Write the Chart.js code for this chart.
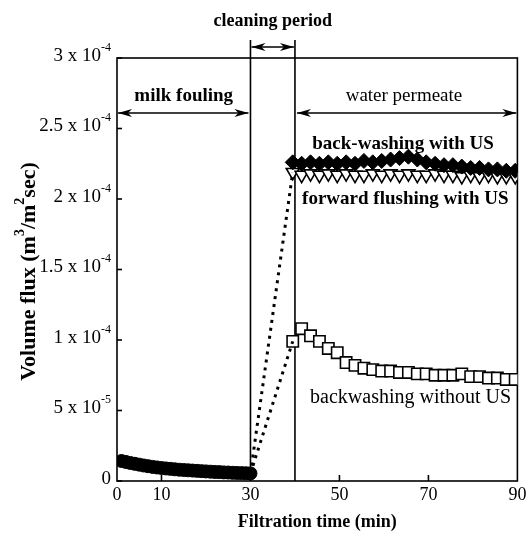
<!DOCTYPE html>
<html>
<head>
<meta charset="utf-8">
<script src="https://cdn.jsdelivr.net/npm/chart.js@4"></script>
<style>
  body { margin: 0; background: #fff; }
</style>
</head>
<body>
<canvas id="myChart" width="527" height="535"></canvas>
<script>
// milk fouling (filled circles)
const timeMilk = [1, 2, 3, 4, 5, 6, 7, 8, 9, 10, 11, 12, 13, 14, 15, 16, 17, 18, 19, 20, 21, 22, 23, 24, 25, 26, 27, 28, 29, 30];
const fluxMilk = [1.42e-5, 1.35e-5, 1.28e-5, 1.22e-5, 1.16e-5, 1.10e-5, 1.05e-5, 1.00e-5, 0.96e-5, 0.92e-5,
    0.89e-5, 0.86e-5, 0.83e-5, 0.80e-5, 0.78e-5, 0.76e-5, 0.74e-5, 0.72e-5, 0.70e-5, 0.68e-5,
    0.66e-5, 0.64e-5, 0.63e-5, 0.61e-5, 0.60e-5, 0.58e-5, 0.57e-5, 0.56e-5, 0.55e-5, 0.54e-5];

// water permeate after cleaning
const timeRinse = [39.5, 41.5, 43.5, 45.5, 47.5, 49.5, 51.5, 53.5, 55.5, 57.5, 59.5, 61.5, 63.5,
    65.5, 67.5, 69.5, 71.5, 73.5, 75.5, 77.5, 79.5, 81.5, 83.5, 85.5, 87.5, 89.5];
const fluxBackUS = [2.26e-4, 2.25e-4, 2.26e-4, 2.25e-4, 2.26e-4, 2.25e-4, 2.26e-4, 2.25e-4, 2.27e-4, 2.26e-4,
    2.27e-4, 2.28e-4, 2.29e-4, 2.30e-4, 2.28e-4, 2.26e-4, 2.25e-4, 2.24e-4, 2.24e-4, 2.23e-4,
    2.22e-4, 2.22e-4, 2.21e-4, 2.21e-4, 2.20e-4, 2.20e-4];
const fluxForwardUS = [2.19e-4, 2.17e-4, 2.18e-4, 2.17e-4, 2.18e-4, 2.17e-4, 2.18e-4, 2.17e-4, 2.17e-4, 2.18e-4,
    2.17e-4, 2.18e-4, 2.17e-4, 2.18e-4, 2.17e-4, 2.17e-4, 2.18e-4, 2.17e-4, 2.17e-4, 2.16e-4,
    2.17e-4, 2.16e-4, 2.17e-4, 2.16e-4, 2.16e-4, 2.16e-4];
const fluxBackNoUS = [0.99e-4, 1.08e-4, 1.03e-4, 0.99e-4, 0.94e-4, 0.91e-4, 0.84e-4, 0.82e-4, 0.80e-4, 0.79e-4,
    0.78e-4, 0.78e-4, 0.77e-4, 0.77e-4, 0.76e-4, 0.76e-4, 0.75e-4, 0.75e-4, 0.75e-4, 0.76e-4,
    0.74e-4, 0.74e-4, 0.73e-4, 0.73e-4, 0.72e-4, 0.72e-4];

const xTickLabels = [0, 10, 30, 50, 70, 90];
const xTickMarks = [10, 30, 50, 70];
const yTicks = [0, 5e-5, 1e-4, 1.5e-4, 2e-4, 2.5e-4, 3e-4];
const yTickBase = ['0', '5 x 10', '1 x 10', '1.5 x 10', '2 x 10', '2.5 x 10', '3 x 10'];
const yTickExp = ['', '-5', '-4', '-4', '-4', '-4', '-4'];
const periodBounds = [30, 40];

const pts = (xs, ys) => xs.map((x, i) => ({x: x, y: ys[i]}));
const lastMilk = {x: timeMilk[timeMilk.length - 1], y: fluxMilk[fluxMilk.length - 1]};

const data = {
    datasets: [
        {
            label: 'dotted to US',
            data: [lastMilk, {x: timeRinse[0], y: fluxForwardUS[0]}],
            showLine: true, borderColor: '#000', borderWidth: 3, borderDash: [3, 5],
            pointRadius: 0,
        },
        {
            label: 'dotted to no US',
            data: [lastMilk, {x: timeRinse[0], y: fluxBackNoUS[0]}],
            showLine: true, borderColor: '#000', borderWidth: 3, borderDash: [3, 5],
            pointRadius: 0,
        },
        {
            label: 'milk fouling',
            data: pts(timeMilk, fluxMilk),
            pointStyle: 'circle', pointRadius: 6.5,
            backgroundColor: '#000', borderColor: '#000', borderWidth: 1,
        },
        {
            label: 'back-washing with US',
            data: pts(timeRinse, fluxBackUS),
            pointStyle: 'rectRot', pointRadius: 7.5,
            backgroundColor: '#000', borderColor: '#000', borderWidth: 1,
        },
        {
            label: 'forward flushing with US',
            data: pts(timeRinse, fluxForwardUS),
            pointStyle: 'triangle', pointRotation: 180, pointRadius: 7.5,
            backgroundColor: '#fff', borderColor: '#000', borderWidth: 1.6,
        },
        {
            label: 'backwashing without US',
            data: pts(timeRinse, fluxBackNoUS),
            pointStyle: 'rect', pointRadius: 8,
            backgroundColor: '#fff', borderColor: '#000', borderWidth: 1.6,
        },
    ]
};

const serif = '"Liberation Serif", "Times New Roman", serif';

function line(ctx, x1, y1, x2, y2) {
    ctx.beginPath();
    ctx.moveTo(x1, y1);
    ctx.lineTo(x2, y2);
    ctx.stroke();
}

function arrow(ctx, x1, x2, y) {
    line(ctx, x1, y, x2, y);
    [[x1, 1], [x2, -1]].forEach(([x, d]) => {
        ctx.beginPath();
        ctx.moveTo(x, y);
        ctx.lineTo(x + d * 14, y - 4);
        ctx.lineTo(x + d * 10, y);
        ctx.lineTo(x + d * 14, y + 4);
        ctx.closePath();
        ctx.fill();
    });
}

// base text with superscript, right aligned at xr
function supText(ctx, base, sup, xr, y, size) {
    ctx.font = size + 'px ' + serif;
    const bw = ctx.measureText(base).width;
    ctx.font = Math.round(size * 0.65) + 'px ' + serif;
    const sw = sup ? ctx.measureText(sup).width : 0;
    const x0 = xr - bw - sw;
    ctx.textAlign = 'left';
    ctx.textBaseline = 'middle';
    ctx.font = size + 'px ' + serif;
    ctx.fillText(base, x0, y);
    if (sup) {
        ctx.font = Math.round(size * 0.65) + 'px ' + serif;
        ctx.fillText(sup, x0 + bw, y - size * 0.45);
    }
}

const frame = {
    id: 'frame',
    beforeDatasetsDraw(chart) {
        const {ctx, chartArea: a, scales: {x, y}} = chart;
        ctx.save();
        ctx.strokeStyle = '#000';
        ctx.fillStyle = '#000';
        ctx.lineWidth = 1.6;
        ctx.strokeRect(a.left, a.top, a.right - a.left, a.bottom - a.top);
        yTicks.forEach(v => {
            const py = y.getPixelForValue(v);
            line(ctx, a.left, py, a.left + 5, py);
        });
        xTickMarks.forEach(v => {
            const px = x.getPixelForValue(v);
            line(ctx, px, a.bottom, px, a.bottom - 6);
        });
        periodBounds.forEach(v => {
            const px = x.getPixelForValue(v);
            line(ctx, px, a.bottom, px, a.top - 18);
        });
        ctx.lineWidth = 1.3;
        const p0 = x.getPixelForValue(0), p30 = x.getPixelForValue(30);
        const p40 = x.getPixelForValue(40), p90 = x.getPixelForValue(90);
        arrow(ctx, p0 + 1, p30 - 2, a.top + 55);
        arrow(ctx, p40 + 2, p90 - 1, a.top + 55);
        arrow(ctx, p30 + 1, p40 - 1, a.top - 11);
        ctx.restore();
    },
    afterDraw(chart) {
        const {ctx, chartArea: a, scales: {x, y}} = chart;
        ctx.save();
        ctx.fillStyle = '#000';
        // y tick labels
        yTicks.forEach((v, i) => {
            supText(ctx, yTickBase[i], yTickExp[i], a.left - 6, y.getPixelForValue(v) - 2, 19);
        });
        // x tick labels
        ctx.font = '18px ' + serif;
        ctx.textAlign = 'center';
        ctx.textBaseline = 'middle';
        xTickLabels.forEach(v => {
            ctx.fillText(String(v), x.getPixelForValue(v), a.bottom + 14);
        });
        // axis titles
        ctx.font = 'bold 18px ' + serif;
        ctx.fillText('Filtration time (min)', (a.left + a.right) / 2, a.bottom + 41);
        ctx.save();
        ctx.translate(29, (a.top + a.bottom) / 2 + 2);
        ctx.rotate(-Math.PI / 2);
        const parts = [['Volume flux (m', 0], ['3', 1], ['/m', 0], ['2', 1], ['sec)', 0]];
        const big = 'bold 22px ' + serif, small = 'bold 14px ' + serif;
        let total = 0;
        parts.forEach(([t, s]) => {
            ctx.font = s ? small : big;
            total += ctx.measureText(t).width;
        });
        let cx = -total / 2;
        ctx.textAlign = 'left';
        parts.forEach(([t, s]) => {
            ctx.font = s ? small : big;
            ctx.fillText(t, cx, s ? -9 : 0);
            cx += ctx.measureText(t).width;
        });
        ctx.restore();
        // annotations
        ctx.textAlign = 'center';
        ctx.font = 'bold 18px ' + serif;
        ctx.fillText('cleaning period', (x.getPixelForValue(30) + x.getPixelForValue(40)) / 2, a.top - 37);
        ctx.font = 'bold 19px ' + serif;
        ctx.fillText('milk fouling', x.getPixelForValue(15), a.top + 38);
        ctx.font = '19px ' + serif;
        ctx.fillText('water permeate', x.getPixelForValue(64.5), a.top + 38);
        ctx.font = 'bold 19px ' + serif;
        ctx.fillText('back-washing with US', x.getPixelForValue(64.3), y.getPixelForValue(2.39e-4));
        ctx.fillText('forward flushing with US', x.getPixelForValue(64.8), y.getPixelForValue(2.0e-4));
        ctx.font = '20px ' + serif;
        ctx.fillText('backwashing without US', x.getPixelForValue(66), y.getPixelForValue(0.59e-4));
        ctx.restore();
    }
};

const config = {
    type: 'scatter',
    data: data,
    options: {
        responsive: false,
        animation: false,
        layout: {padding: {left: 117, right: 9, top: 58, bottom: 54}},
        plugins: {legend: {display: false}, tooltip: {enabled: false}},
        scales: {
            x: {type: 'linear', min: 0, max: 90, display: false},
            y: {type: 'linear', min: 0, max: 3e-4, display: false},
        },
    },
    plugins: [frame],
};

const myChart = new Chart(document.getElementById('myChart'), config);
</script>
</body>
</html>
